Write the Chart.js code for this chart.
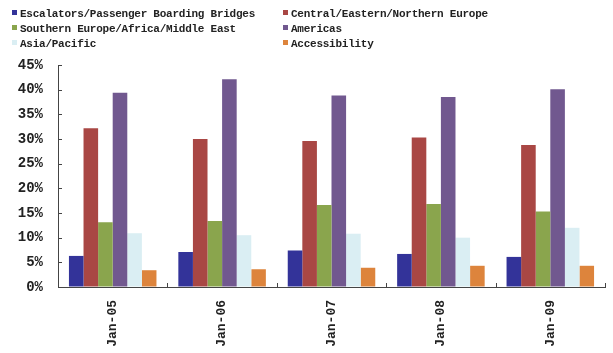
<!DOCTYPE html>
<html><head><meta charset="utf-8">
<script src="https://cdn.jsdelivr.net/npm/chart.js@4/dist/chart.umd.min.js"></script>
<style>
body{margin:0;background:#fff}
#wrap{position:relative;width:613px;height:353px}
#legend{position:absolute;left:0;top:0;width:613px;height:55px;font:bold 11px "Liberation Mono",monospace;color:#222;letter-spacing:-0.25px}
.item{position:absolute;white-space:pre;line-height:15px;height:15px}
.box{position:absolute;width:5px;height:5px}
</style></head>
<body>
<div id="wrap"><canvas id="c" width="613" height="353"></canvas><div id="legend"></div></div>
<script>
const categories = ['Jan-05','Jan-06','Jan-07','Jan-08','Jan-09'];
const seriesNames = ['Escalators/Passenger Boarding Bridges','Central/Eastern/Northern Europe','Southern Europe/Africa/Middle East','Americas','Asia/Pacific','Accessibility'];
const escalators    = [6.3, 7.1, 7.4, 6.7, 6.1];
const central       = [32.2, 30.0, 29.6, 30.3, 28.8];
const southern      = [13.1, 13.4, 16.6, 16.8, 15.3];
const americas      = [39.4, 42.1, 38.8, 38.5, 40.1];
const asiaPacific   = [10.9, 10.5, 10.8, 10.0, 12.0];
const accessibility = [3.4, 3.6, 3.9, 4.3, 4.3];
const yTickValues   = [0,5,10,15,20,25,30,35,40,45];

const seriesValues = [escalators, central, southern, americas, asiaPacific, accessibility];
const colors = ['#333399','#A94744','#8AA54D','#71588F','#DAEEF3','#DD843C'];

// HTML legend (two columns, three rows)
const leg = document.getElementById('legend');
seriesNames.forEach((n,i)=>{
  const col = i%2, row = Math.floor(i/2);
  const bx = col===0 ? 12 : 283, ty = 7 + row*15;
  const b = document.createElement('div'); b.className='box';
  b.style.left = bx+'px'; b.style.top = (ty+3)+'px'; b.style.background = colors[i];
  const t = document.createElement('div'); t.className='item';
  t.style.left = (bx+8)+'px'; t.style.top = ty+'px'; t.textContent = n;
  leg.appendChild(b); leg.appendChild(t);
});

const innerTicks = {
  id:'innerTicks',
  afterDraw(chart){
    const {ctx, chartArea:a, scales:{x,y}} = chart;
    ctx.save(); ctx.strokeStyle='#444'; ctx.lineWidth=1;
    ctx.beginPath();
    yTickValues.forEach(v=>{const py=Math.round(y.getPixelForValue(v))+0.5; ctx.moveTo(a.left,py); ctx.lineTo(a.left+4,py);});
    const w=(a.right-a.left)/categories.length;
    for(let i=0;i<=categories.length;i++){const px=Math.round(a.left+i*w)+0.5; ctx.moveTo(px,a.bottom); ctx.lineTo(px,a.bottom-4);}
    ctx.stroke(); ctx.restore();
  }
};

new Chart(document.getElementById('c'), {
  type:'bar',
  data:{
    labels:categories,
    datasets: seriesNames.map((n,i)=>({label:n, data:seriesValues[i], backgroundColor:colors[i], borderWidth:0,
      categoryPercentage:0.8, barPercentage:1.0}))
  },
  options:{
    responsive:false, animation:false, devicePixelRatio:1,
    layout:{padding:{top:65,right:8,left:0,bottom:0}},
    plugins:{legend:{display:false}, tooltip:{enabled:false}},
    scales:{
      x:{
        grid:{display:true,drawOnChartArea:false,drawTicks:false},
        border:{display:true,color:'#444',width:1},
        ticks:{minRotation:90,maxRotation:90,padding:13,color:'#222',font:{family:'Liberation Mono',size:13,weight:'bold'}},
        afterFit(s){s.height=66;}
      },
      y:{
        min:0,max:45,
        afterBuildTicks(s){s.ticks=yTickValues.map(v=>({value:v}));},
        grid:{display:true,drawOnChartArea:false,drawTicks:false},
        border:{display:true,color:'#444',width:1},
        ticks:{padding:15,color:'#222',font:{family:'Liberation Mono',size:14,weight:'bold'},callback:v=>v+'%'},
        afterFit(s){s.width=58;}
      }
    }
  },
  plugins:[innerTicks]
});
</script>
</body></html>
